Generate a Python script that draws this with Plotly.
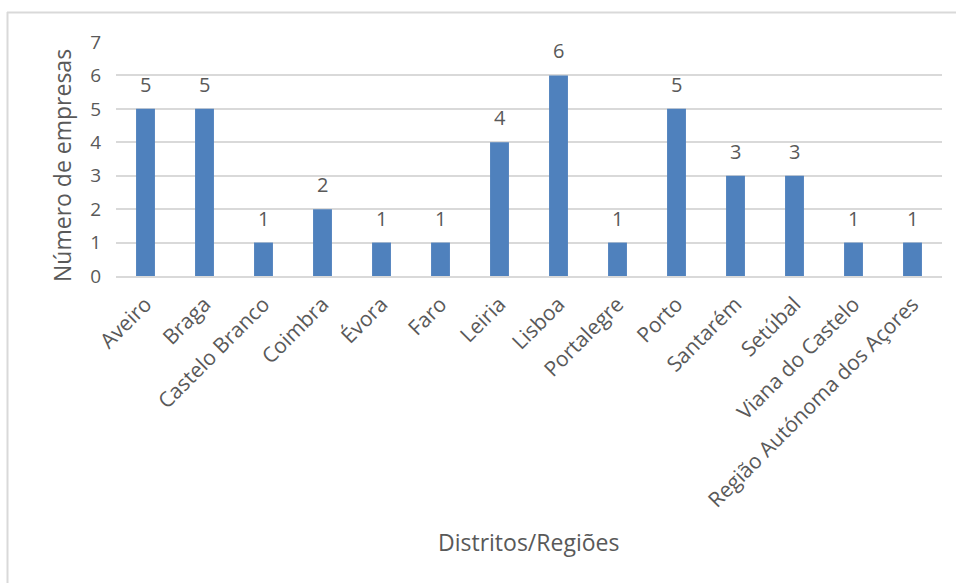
import plotly.graph_objects as go

# Number of companies per district / region
distritos = ["Aveiro", "Braga", "Castelo Branco", "Coimbra", "Évora", "Faro", "Leiria",
             "Lisboa", "Portalegre", "Porto", "Santarém", "Setúbal", "Viana do Castelo",
             "Região Autónoma dos Açores"]
empresas = [5, 5, 1, 2, 1, 1, 4, 6, 1, 5, 3, 3, 1, 1]
y_ticks = [0, 1, 2, 3, 4, 5, 6, 7]

FONT = "Open Sans, Segoe UI, Liberation Sans, sans-serif"
TXT = "#595959"
BAR = "#4F81BD"
GRID = "#D9D9D9"

W, H = 956, 583
ML, MR, MT, MB = 116, 14, 42, 307
pw = W - ML - MR
ph = H - MT - MB


def px_x(p):
    return (p - ML) / pw


def px_y(p):
    return (H - MB - p) / ph


fig = go.Figure()
fig.add_trace(go.Bar(x=distritos, y=empresas, marker=dict(color=BAR, line=dict(width=0)),
                     width=0.32, hoverinfo="x+y"))

# value labels above each bar
for d, v in zip(distritos, empresas):
    fig.add_annotation(x=d, y=v, text=str(v), showarrow=False, xref="x", yref="y",
                       yanchor="bottom", yshift=9,
                       font=dict(family=FONT, size=20, color=TXT))

# axis titles
fig.add_annotation(text="Distritos/Regiões", xref="paper", yref="paper",
                   x=px_x(528), y=px_y(542), xanchor="center", yanchor="middle",
                   showarrow=False, font=dict(family=FONT, size=23, color=TXT))
fig.add_annotation(text="Número de empresas", xref="paper", yref="paper",
                   x=px_x(62), y=px_y(166), xanchor="center", yanchor="middle",
                   textangle=-90, showarrow=False,
                   font=dict(family=FONT, size=23, color=TXT))

# outer frame (top and left edges)
fig.add_shape(type="line", xref="paper", yref="paper", x0=px_x(7), x1=px_x(W),
              y0=px_y(12.5), y1=px_y(12.5), line=dict(color=GRID, width=2))
fig.add_shape(type="line", xref="paper", yref="paper", x0=px_x(7.5), x1=px_x(7.5),
              y0=px_y(12), y1=px_y(H), line=dict(color=GRID, width=2))

fig.update_layout(
    width=W, height=H,
    margin=dict(l=ML, r=MR, t=MT, b=MB),
    paper_bgcolor="white", plot_bgcolor="white",
    showlegend=False,
    font=dict(family=FONT, size=18, color=TXT),
    xaxis=dict(
        tickangle=-45, tickfont=dict(size=21, color=TXT),
        showgrid=False, showline=True, linecolor=GRID, linewidth=1.5,
        ticks="outside", ticklen=6, tickcolor="rgba(0,0,0,0)",
        automargin=False,
    ),
    yaxis=dict(
        range=[0, 7], tickvals=y_ticks, ticktext=[str(t) for t in y_ticks],
        tickfont=dict(size=19, color=TXT),
        showgrid=True, gridcolor=GRID, gridwidth=1.5, zeroline=False,
        showline=False, ticks="outside", ticklen=10, tickcolor="rgba(0,0,0,0)",
        automargin=False,
    ),
)

fig.write_html("out.html")
